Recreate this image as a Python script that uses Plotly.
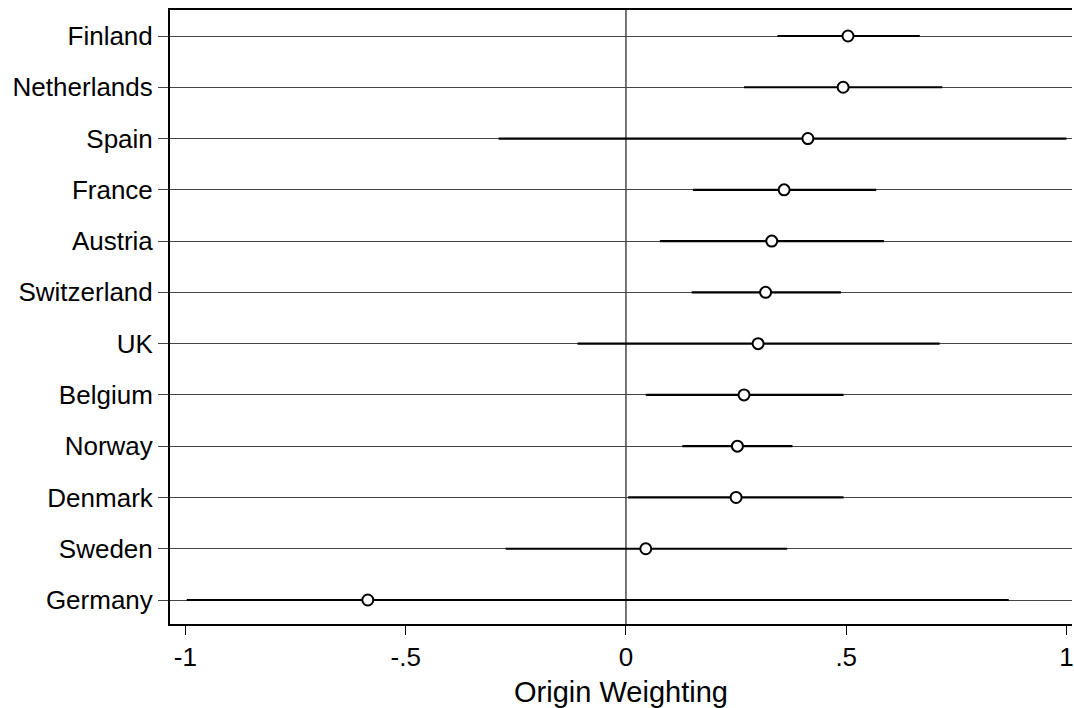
import plotly.graph_objects as go

countries = ["Finland", "Netherlands", "Spain", "France", "Austria", "Switzerland",
             "UK", "Belgium", "Norway", "Denmark", "Sweden", "Germany"]
estimate = [0.504, 0.493, 0.413, 0.359, 0.331, 0.317, 0.300, 0.268, 0.253, 0.250, 0.045, -0.586]
ci_low = [0.344, 0.268, -0.289, 0.152, 0.077, 0.149, -0.110, 0.045, 0.128, 0.005, -0.273, -0.997]
ci_high = [0.667, 0.718, 1.0, 0.568, 0.586, 0.488, 0.712, 0.494, 0.378, 0.494, 0.366, 0.869]
x_tickvals = [-1, -0.5, 0, 0.5, 1]
x_ticktext = ["-1", "-.5", "0", ".5", "1"]

n = len(countries)
ypos = [n - i for i in range(n)]
err_plus = [h - e for h, e in zip(ci_high, estimate)]
err_minus = [e - l for e, l in zip(estimate, ci_low)]

fig = go.Figure()
fig.add_trace(go.Scatter(
    x=estimate, y=ypos, mode="markers",
    marker=dict(symbol="circle", size=11, color="white",
                line=dict(color="black", width=2)),
    error_x=dict(type="data", symmetric=False, array=err_plus, arrayminus=err_minus,
                 color="black", thickness=2.2, width=0),
    showlegend=False, cliponaxis=False,
))

font_family = "Liberation Sans, Arial, Helvetica, sans-serif"
fig.update_layout(
    width=1074, height=708,
    margin=dict(l=170, r=0, t=10, b=84),
    paper_bgcolor="white", plot_bgcolor="white",
    font=dict(family=font_family, size=26, color="black"),
    shapes=[dict(type="line", xref="x", yref="paper", x0=0, x1=0, y0=0, y1=1,
                 line=dict(color="#555555", width=1.6), layer="below")],
)
fig.update_xaxes(
    range=[-1.035, 1.0125], tickvals=x_tickvals, ticktext=x_ticktext,
    showgrid=False, zeroline=False,
    showline=True, linecolor="black", linewidth=2, mirror=True,
    ticks="outside", ticklen=9, tickwidth=1.2, tickcolor="black",
    tickfont=dict(size=26), ticklabeloverflow="allow",
    title=dict(text="Origin Weighting", font=dict(size=29), standoff=11),
)
fig.update_yaxes(
    range=[0.532, 12.507], tickvals=ypos, ticktext=countries,
    showgrid=True, gridcolor="#444444", gridwidth=1, zeroline=False,
    showline=True, linecolor="black", linewidth=2,
    ticks="outside", ticklen=10, tickwidth=1.2, tickcolor="#444444",
    tickfont=dict(size=26),
)

fig.write_html(
    "out.html",
    config={"displayModeBar": False},
    post_script="document.body.style.margin='0';document.body.style.overflow='hidden';",
)
